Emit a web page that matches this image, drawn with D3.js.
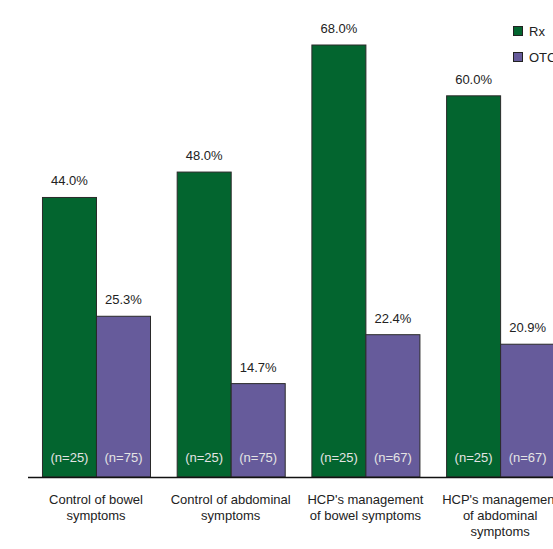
<!DOCTYPE html>
<html>
<head>
<meta charset="utf-8">
<script src="https://cdn.jsdelivr.net/npm/d3@7"></script>
<style>
  html, body { margin: 0; padding: 0; background: #fff; }
  svg { display: block; font-family: "Liberation Sans", Arial, sans-serif; }
</style>
</head>
<body>
<svg id="chart" width="553" height="549"></svg>
<script>
// Category labels (wrapped lines) and series values
const categories = [
  ["Control of bowel", "symptoms"],
  ["Control of abdominal", "symptoms"],
  ["HCP's management", "of bowel symptoms"],
  ["HCP's management", "of abdominal", "symptoms"]
];
const seriesNames = ["Rx", "OTC"];
const rxValues = [44.0, 48.0, 68.0, 60.0];
const otcValues = [25.3, 14.7, 22.4, 20.9];
const rxN = [25, 25, 25, 25];
const otcN = [75, 75, 67, 67];

const colors = { Rx: "#03652f", OTC: "#665b9b" };
const fontSize = 13;

const svg = d3.select("#chart");
const baseY = 477;

const keys = categories.map((c, i) => i);
const x0 = d3.scaleBand()
  .domain(keys)
  .range([28.5, 567.6])
  .paddingInner(0.198)
  .paddingOuter(0.1);
const x1 = d3.scaleBand()
  .domain(seriesNames)
  .range([0, x0.bandwidth()]);
const y = d3.scaleLinear().domain([0, 68]).range([baseY, 45]);

const rows = keys.map(i => ({
  i,
  values: [
    { key: "Rx", v: rxValues[i], n: rxN[i] },
    { key: "OTC", v: otcValues[i], n: otcN[i] }
  ]
}));

const groups = svg.selectAll("g.group")
  .data(rows)
  .join("g")
  .attr("class", "group")
  .attr("transform", d => `translate(${x0(d.i)},0)`);

const bars = groups.selectAll("g.bar")
  .data(d => d.values)
  .join("g")
  .attr("class", "bar");

bars.append("rect")
  .attr("x", d => x1(d.key) + 0.5)
  .attr("y", d => y(d.v))
  .attr("width", x1.bandwidth())
  .attr("height", d => baseY - y(d.v))
  .attr("fill", d => colors[d.key])
  .attr("stroke", "#2a2a2a")
  .attr("stroke-width", 1);

// value labels above bars
bars.append("text")
  .attr("x", d => x1(d.key) + x1.bandwidth() / 2 + 0.5)
  .attr("y", d => y(d.v) - 12)
  .attr("text-anchor", "middle")
  .attr("font-size", fontSize)
  .attr("fill", "#222")
  .text(d => d.v.toFixed(1) + "%");

// sample size labels inside bars
bars.append("text")
  .attr("x", d => x1(d.key) + x1.bandwidth() / 2 + 0.5)
  .attr("y", baseY - 15)
  .attr("text-anchor", "middle")
  .attr("font-size", fontSize)
  .attr("fill", "#e4e4e4")
  .text(d => `(n=${d.n})`);

// baseline axis
svg.append("line")
  .attr("x1", 28).attr("x2", 553)
  .attr("y1", baseY + 0.5).attr("y2", baseY + 0.5)
  .attr("stroke", "#111")
  .attr("stroke-width", 1.6);

// category labels
const catText = svg.selectAll("text.cat")
  .data(rows)
  .join("text")
  .attr("class", "cat")
  .attr("text-anchor", "middle")
  .attr("font-size", fontSize)
  .attr("fill", "#222")
  .attr("transform", d => `translate(${x0(d.i) + x0.bandwidth() / 2},504)`);
catText.selectAll("tspan")
  .data(d => categories[d.i])
  .join("tspan")
  .attr("x", 0)
  .attr("dy", (d, j) => j === 0 ? 0 : 16)
  .text(d => d);

// legend
const legend = svg.selectAll("g.legend")
  .data(seriesNames)
  .join("g")
  .attr("class", "legend")
  .attr("transform", (d, i) => `translate(513,${26 + i * 26})`);
legend.append("rect")
  .attr("x", 0.5).attr("y", 0.5)
  .attr("width", 9).attr("height", 9)
  .attr("fill", d => colors[d])
  .attr("stroke", "#222");
legend.append("text")
  .attr("x", 16).attr("y", 10)
  .attr("font-size", fontSize)
  .attr("fill", "#222")
  .text(d => d);
</script>
</body>
</html>
